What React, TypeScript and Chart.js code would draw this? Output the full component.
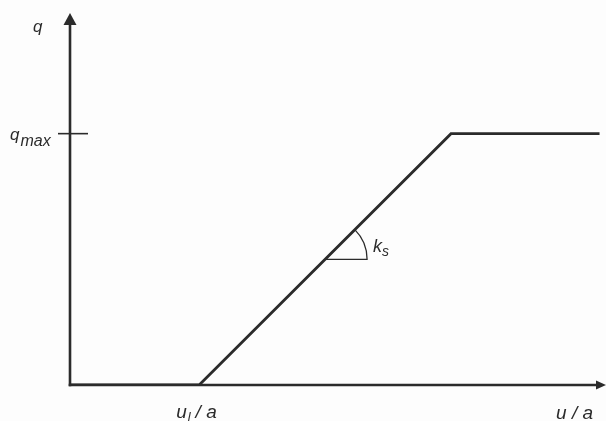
import React, { useEffect, useRef } from "react";
import { Chart, registerables } from "chart.js";

Chart.register(...registerables);

// Normalised displacement u/a (u_l/a = 1) and normalised load q (q_max = 1)
const uValues = [0, 1.0, 2.95, 4.1];
const qValues = [0, 0, 1.0, 1.0];
const X_MAX = 4.15;
const Y_MAX = 1.48;
const Q_MAX = 1.0;
const U_L = 1.0;
const SLOPE_MARK_Q = 0.5;

const yAxisTitle = "q";
const xAxisTitle = "u / a";
const qTickLabel = ["q", "max"];
const uTickLabel = ["u", "l", "/ a"];
const slopeLabel = ["k", "s"];

const INK = "#2b2b2b";
const FONT = "'Liberation Sans', Arial, sans-serif";

const overlay = {
  id: "overlay",
  beforeDatasetsDraw(chart: any) {
    const ctx = chart.ctx;
    const xs = chart.scales.x;
    const ys = chart.scales.y;
    const x0 = xs.getPixelForValue(0);
    const y0 = ys.getPixelForValue(0);
    const xEnd = xs.getPixelForValue(X_MAX);
    const yTop = ys.getPixelForValue(Y_MAX);
    ctx.save();
    ctx.strokeStyle = INK;
    ctx.fillStyle = INK;
    ctx.lineWidth = 2.6;
    ctx.lineCap = "butt";
    // y axis
    ctx.beginPath();
    ctx.moveTo(x0, y0 + 1.3);
    ctx.lineTo(x0, yTop + 10);
    ctx.stroke();
    ctx.beginPath();
    ctx.moveTo(x0, yTop);
    ctx.lineTo(x0 - 6.5, yTop + 12);
    ctx.lineTo(x0 + 6.5, yTop + 12);
    ctx.closePath();
    ctx.fill();
    // x axis
    ctx.beginPath();
    ctx.moveTo(x0 - 1.3, y0);
    ctx.lineTo(xEnd - 8, y0);
    ctx.stroke();
    ctx.beginPath();
    ctx.moveTo(xEnd, y0);
    ctx.lineTo(xEnd - 10, y0 - 4.5);
    ctx.lineTo(xEnd - 10, y0 + 4.5);
    ctx.closePath();
    ctx.fill();
    // q_max tick
    const yq = ys.getPixelForValue(Q_MAX);
    ctx.lineWidth = 1.6;
    ctx.beginPath();
    ctx.moveTo(x0 - 12, yq);
    ctx.lineTo(x0 + 18, yq);
    ctx.stroke();

    // slope marker
    const px1 = xs.getPixelForValue(uValues[1]);
    const py1 = ys.getPixelForValue(qValues[1]);
    const px2 = xs.getPixelForValue(uValues[2]);
    const py2 = ys.getPixelForValue(qValues[2]);
    const cy = ys.getPixelForValue(SLOPE_MARK_Q);
    const t = (cy - py1) / (py2 - py1);
    const cx = px1 + t * (px2 - px1);
    const theta = Math.atan2(py1 - py2, px2 - px1);
    const r = 42;
    ctx.lineWidth = 1.3;
    ctx.beginPath();
    ctx.moveTo(cx, cy);
    ctx.lineTo(cx + r, cy);
    ctx.arc(cx, cy, r, 0, -theta, true);
    ctx.stroke();

    // texts
    ctx.textBaseline = "alphabetic";
    ctx.textAlign = "left";
    ctx.font = `italic 17px ${FONT}`;
    ctx.fillText(yAxisTitle, x0 - 37, yTop + 19);

    // q_max
    ctx.font = `italic 17px ${FONT}`;
    ctx.fillText(qTickLabel[0], x0 - 60, yq + 6);
    const qw = ctx.measureText(qTickLabel[0]).width;
    ctx.font = `italic 16px ${FONT}`;
    ctx.fillText(qTickLabel[1], x0 - 60 + qw + 1, yq + 12);

    // u_l / a
    const ul = xs.getPixelForValue(U_L);
    let ux = ul - 23;
    const ub = y0 + 33;
    ctx.font = `italic 19px ${FONT}`;
    ctx.fillText(uTickLabel[0], ux, ub);
    ux += ctx.measureText(uTickLabel[0]).width;
    ctx.font = `italic 13px ${FONT}`;
    ctx.fillText(uTickLabel[1], ux + 1, ub + 3);
    ux += ctx.measureText(uTickLabel[1]).width + 6;
    ctx.font = `italic 19px ${FONT}`;
    ctx.fillText(uTickLabel[2], ux, ub);

    // u / a
    ctx.textAlign = "right";
    ctx.font = `italic 19px ${FONT}`;
    ctx.fillText(xAxisTitle, xEnd - 13, y0 + 34);

    // k_s
    ctx.textAlign = "left";
    ctx.font = `italic 18px ${FONT}`;
    const kx = cx + r + 6;
    const ky = cy - 7;
    ctx.fillText(slopeLabel[0], kx, ky);
    const kw = ctx.measureText(slopeLabel[0]).width;
    ctx.font = `italic 14px ${FONT}`;
    ctx.fillText(slopeLabel[1], kx + kw, ky + 4);
    ctx.restore();
  },
};

const background = {
  id: "bg",
  beforeDraw(chart: any) {
    const ctx = chart.ctx;
    ctx.save();
    ctx.fillStyle = "#fdfdfd";
    ctx.fillRect(0, 0, chart.width, chart.height);
    ctx.restore();
  },
};

export default function App() {
  const ref = useRef<HTMLCanvasElement>(null);
  useEffect(() => {
    document.body.style.margin = "0";
    const canvas = ref.current!;
    const chart = new Chart(canvas, {
      type: "scatter",
      data: {
        datasets: [
          {
            data: uValues.map((u, i) => ({ x: u, y: qValues[i] })),
            showLine: true,
            borderColor: INK,
            borderWidth: 2.8,
            pointRadius: 0,
            tension: 0,
            borderJoinStyle: "miter",
          } as any,
        ],
      },
      options: {
        responsive: false,
        animation: false,
        events: [],
        layout: { padding: { left: 70, right: 0, top: 13, bottom: 36 } },
        plugins: {
          legend: { display: false },
          tooltip: { enabled: false },
          title: { display: false },
        },
        scales: {
          x: { type: "linear", min: 0, max: X_MAX, display: false },
          y: { type: "linear", min: 0, max: Y_MAX, display: false },
        },
      },
      plugins: [background, overlay],
    });
    return () => chart.destroy();
  }, []);
  return (
    <div style={{ position: "fixed", left: 0, top: 0, width: 606, height: 421 }}>
      <canvas ref={ref} width={606} height={421} style={{ display: "block" }} />
    </div>
  );
}
